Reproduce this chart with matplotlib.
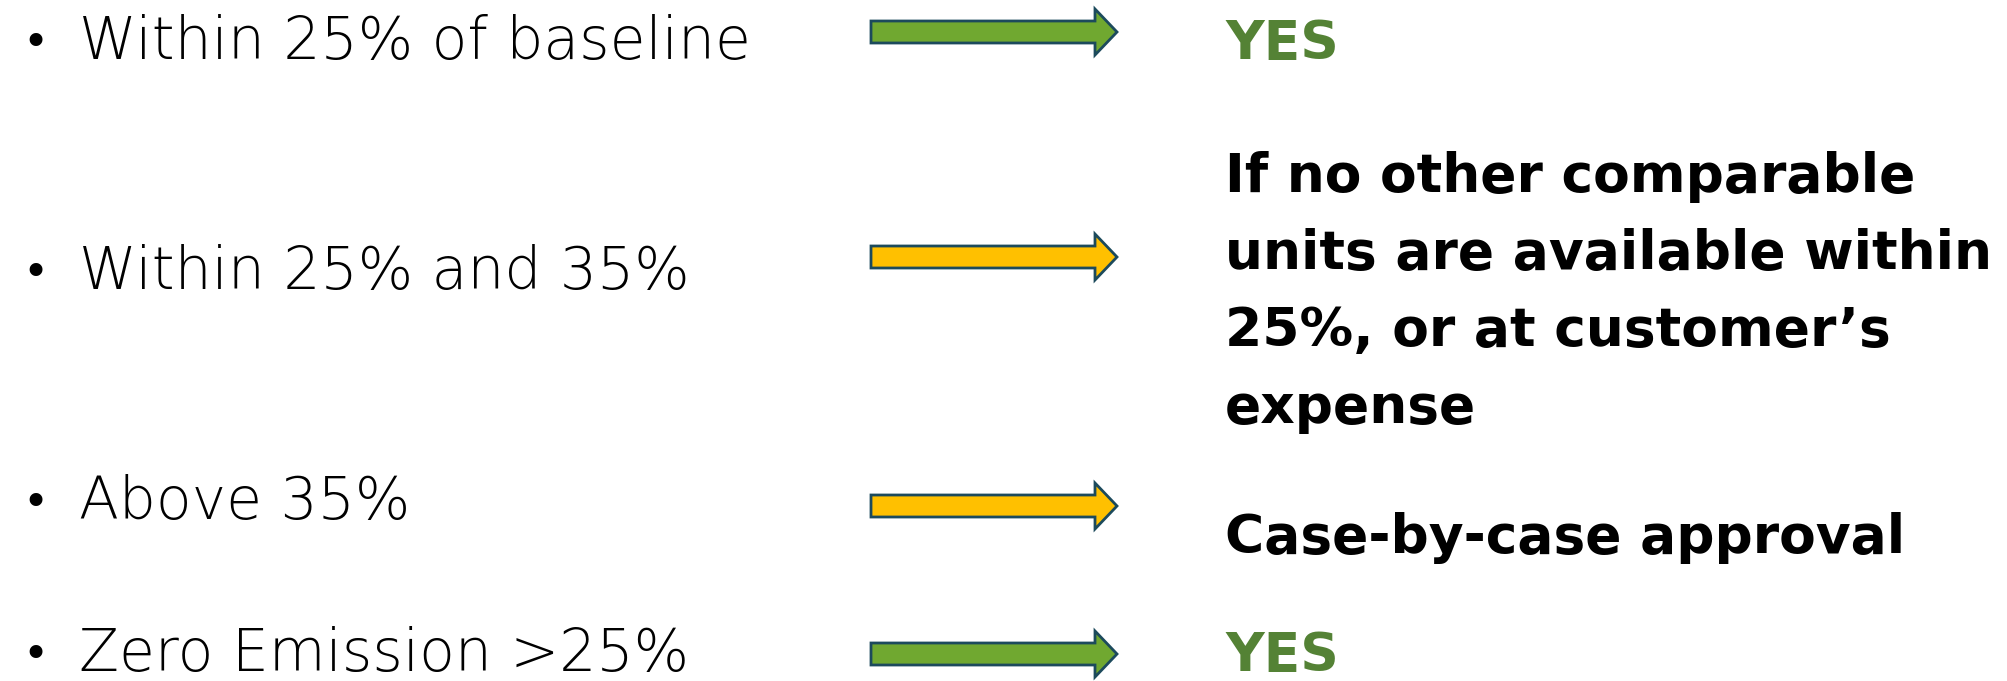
import matplotlib
matplotlib.use("Agg")
import matplotlib.pyplot as plt
from matplotlib.patches import FancyArrow

# ---- data ----
conditions = ["Within 25% of baseline", "Within 25% and 35%", "Above 35%", "Zero Emission >25%"]
outcomes = ["YES",
            "If no other comparable\nunits are available within\n25%, or at customer\u2019s\nexpense",
            "Case-by-case approval",
            "YES"]
arrow_colors = ["#70A830", "#FFC000", "#FFC000", "#70A830"]
outcome_colors = ["#548235", "#000000", "#000000", "#548235"]
row_base = [59, 289, 519, 671]        # baseline of condition text (px from top)
arrow_y = [32, 257, 506, 654]         # arrow centre
outcome_base = [59, 192, 553, 671]    # baseline of first outcome line
line_step = 77

W, H = 2008, 681
fig = plt.figure(figsize=(W / 100, H / 100), dpi=100)
ax = fig.add_axes([0, 0, 1, 1])
ax.set_xlim(0, W)
ax.set_ylim(H, 0)
ax.axis("off")

left_font = dict(family=["DejaVu Sans"], fontweight="light", fontsize=42)
for i, txt in enumerate(conditions):
    ax.text(22, row_base[i] - 16, "\u2022", ha="left", va="center", color="black",
            fontsize=32, family=["DejaVu Sans"])
    ax.text(79, row_base[i], txt, ha="left", va="baseline", color="black", **left_font)

for i, c in enumerate(arrow_colors):
    ar = FancyArrow(871, arrow_y[i], 246, 0, width=22, head_width=46, head_length=22,
                    length_includes_head=True, facecolor=c, edgecolor="#1C4A5C", linewidth=2)
    ax.add_patch(ar)

for i, txt in enumerate(outcomes):
    for k, line in enumerate(txt.split("\n")):
        ax.text(1225, outcome_base[i] + k * line_step, line, ha="left", va="baseline",
                color=outcome_colors[i], fontsize=38.5, fontweight="bold",
                family=["DejaVu Sans"])

fig.savefig("out.png", dpi=100)
